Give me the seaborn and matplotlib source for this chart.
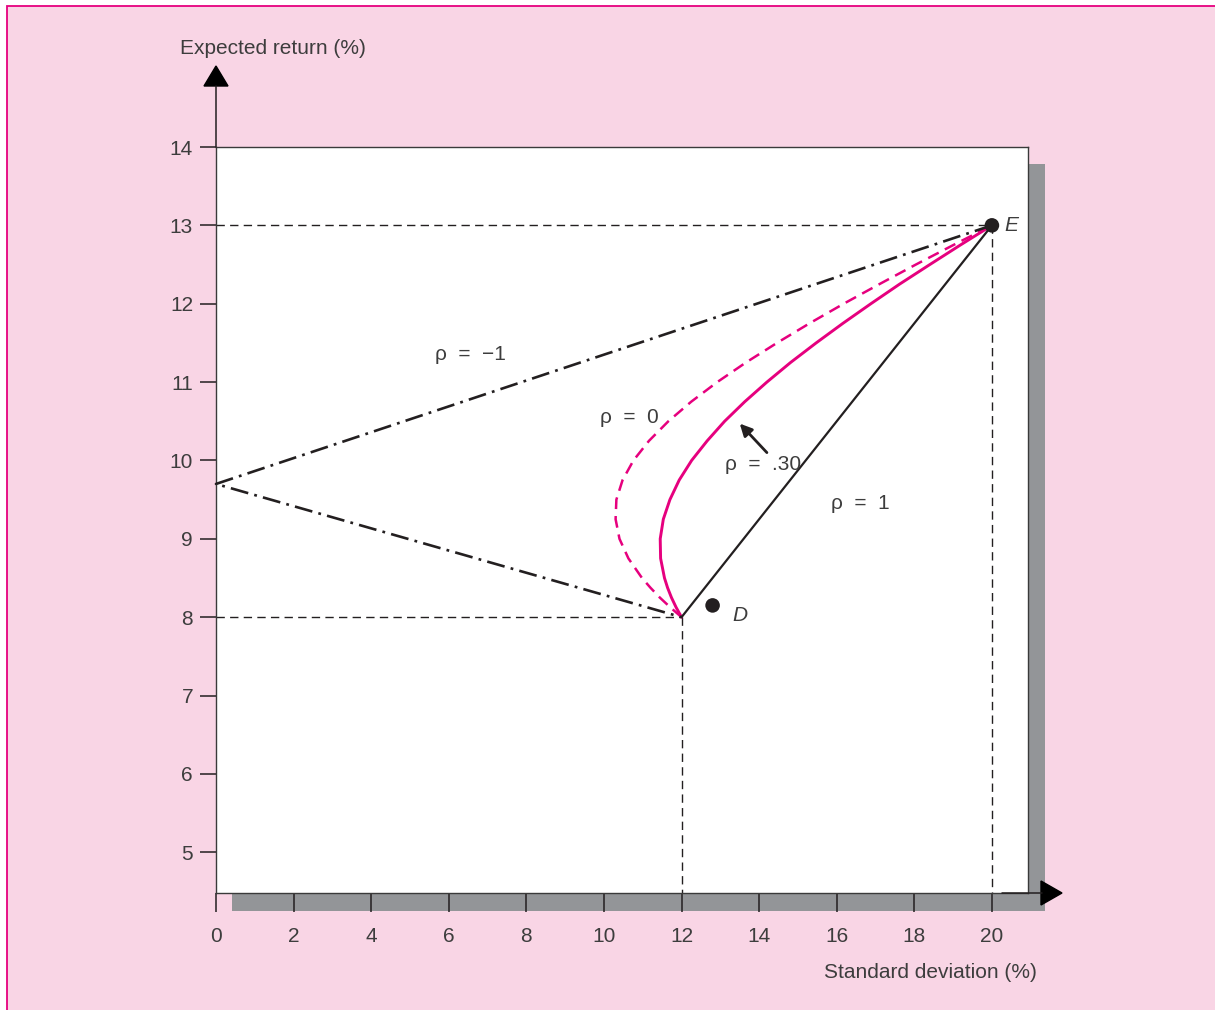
import matplotlib
matplotlib.use("Agg")
import matplotlib.pyplot as plt
from matplotlib.patches import Rectangle, Polygon
from matplotlib.lines import Line2D
import seaborn as sns

# stocks D and E
d_sd, d_ret = 12, 8
e_sd, e_ret = 20, 13
d_dot = (12.8, 8.15)

# rho = -1 : two straight segments through the zero-risk point
neg1_sd = [20, 0, 12]
neg1_ret = [13, 9.7, 8]

# rho = 0 (dashed magenta)
rho0_sd = [12.0, 11.71, 11.44, 11.20, 10.98, 10.63, 10.40, 10.30, 10.32, 10.48, 10.76, 11.16, 11.66,
           12.25, 12.92, 13.66, 14.46, 15.30, 16.18, 17.10, 18.04, 19.01, 20.0]
rho0_ret = [8.0, 8.125, 8.25, 8.375, 8.5, 8.75, 9.0, 9.25, 9.5, 9.75, 10.0, 10.25, 10.5,
            10.75, 11.0, 11.25, 11.5, 11.75, 12.0, 12.25, 12.5, 12.75, 13.0]

# rho = .30 (solid magenta)
rho30_sd = [12.0, 11.86, 11.74, 11.64, 11.56, 11.46, 11.45, 11.53, 11.70, 11.94, 12.26, 12.66, 13.11,
            13.63, 14.20, 14.81, 15.47, 16.16, 16.88, 17.62, 18.40, 19.19, 20.0]
rho30_ret = [8.0, 8.125, 8.25, 8.375, 8.5, 8.75, 9.0, 9.25, 9.5, 9.75, 10.0, 10.25, 10.5,
             10.75, 11.0, 11.25, 11.5, 11.75, 12.0, 12.25, 12.5, 12.75, 13.0]

# rho = 1 (solid black)
rho1_sd = [12, 20]
rho1_ret = [8, 13]

x_ticks = [0, 2, 4, 6, 8, 10, 12, 14, 16, 18, 20]
y_ticks = [5, 6, 7, 8, 9, 10, 11, 12, 13, 14]

PINK = '#F9D5E5'
MAGENTA = '#E6007E'
INK = '#231F20'
TXT = '#3d3d3d'
SHADOW = '#939598'

sns.set_theme(style="white")
plt.rcParams['font.family'] = ['Liberation Sans', 'DejaVu Sans']
plt.rcParams['lines.scale_dashes'] = False

W, H = 1215, 1010
fig = plt.figure(figsize=(W / 100, H / 100), dpi=100, facecolor='white')


def fx(px):
    return px / W


def fy(py):
    return 1 - py / H


# pink panel with magenta frame (only top/left visible)
fig.patches.append(Rectangle((fx(7), fy(1012)), fx(1215), fy(6) - fy(1012),
                             transform=fig.transFigure, facecolor=PINK,
                             edgecolor=MAGENTA, lw=1.3, zorder=-3))
# drop shadow
fig.patches.append(Rectangle((fx(1028), fy(911)), fx(1045) - fx(1028), fy(164) - fy(911),
                             transform=fig.transFigure, facecolor=SHADOW, lw=0, zorder=-2))
fig.patches.append(Rectangle((fx(232), fy(911)), fx(1045) - fx(232), fy(893) - fy(911),
                             transform=fig.transFigure, facecolor=SHADOW, lw=0, zorder=-2))

ax = fig.add_axes([fx(216), fy(893), fx(1028) - fx(216), fy(147) - fy(893)])
ax.set_facecolor('white')
ax.set_xlim(0, 20.93)
ax.set_ylim(4.48, 14)

# guide lines
guide = dict(color=INK, lw=1.0, ls=(0, (6, 3.8)), zorder=1)
ax.plot([0, e_sd], [e_ret, e_ret], **guide)
ax.plot([e_sd, e_sd], [e_ret, 4.48], **guide)
ax.plot([0, d_sd], [d_ret, d_ret], **guide)
ax.plot([d_sd, d_sd], [d_ret, 4.48], **guide)

sns.lineplot(x=rho0_sd, y=rho0_ret, sort=False, estimator=None, ax=ax,
             color=MAGENTA, linewidth=1.8, zorder=2)
ax.lines[-1].set_linestyle((0, (8.5, 5)))
sns.lineplot(x=rho30_sd, y=rho30_ret, sort=False, estimator=None, ax=ax,
             color=MAGENTA, linewidth=2.1, zorder=3)
sns.lineplot(x=rho1_sd, y=rho1_ret, sort=False, estimator=None, ax=ax,
             color=INK, linewidth=1.6, zorder=3)
sns.lineplot(x=neg1_sd, y=neg1_ret, sort=False, estimator=None, ax=ax,
             color=INK, linewidth=1.9, zorder=4)
ax.lines[-1].set_linestyle((0, (13, 4.5, 2, 4.5)))
ax.lines[-1].set_clip_on(False)

sns.scatterplot(x=[d_dot[0], e_sd], y=[d_dot[1], e_ret], ax=ax, color=INK,
                s=110, edgecolor='none', zorder=5)

tk = dict(fontsize=15, color=TXT)
ax.text(6.55, 11.35, 'ρ  =  −1', ha='center', va='center', **tk)
ax.text(10.65, 10.55, 'ρ  =  0', ha='center', va='center', **tk)
ax.text(14.1, 9.95, 'ρ  =  .30', ha='center', va='center', **tk)
ax.text(16.6, 9.45, 'ρ  =  1', ha='center', va='center', **tk)
ax.text(13.3, 8.02, 'D', ha='left', va='center', style='italic', **tk)
ax.text(20.32, 13.0, 'E', ha='left', va='center', style='italic', **tk)
ax.annotate('', xy=(13.5, 10.47), xytext=(14.2, 10.1),
            arrowprops=dict(arrowstyle='-|>', color=INK, lw=2,
                            mutation_scale=18, shrinkA=0, shrinkB=0))

ax.set_xticks(x_ticks)
ax.set_yticks(y_ticks)
ax.tick_params(axis='x', bottom=True, direction='out', length=13.7, width=1.1,
               color=INK, pad=11, labelsize=15, labelcolor=TXT)
ax.tick_params(axis='y', left=True, direction='out', length=11.5, width=1.1,
               color=INK, pad=5, labelsize=15, labelcolor=TXT)
ax.set_xlabel('')
ax.set_ylabel('')
for sp in ax.spines.values():
    sp.set_color('#3a3a3a')
    sp.set_linewidth(1.0)
    sp.set_visible(True)

# axis arrows
fig.lines.append(Line2D([fx(216), fx(216)], [fy(147), fy(86)], transform=fig.transFigure,
                        color=INK, lw=1.1))
fig.patches.append(Polygon([(fx(204), fy(86)), (fx(228), fy(86)), (fx(216), fy(66))],
                           closed=True, transform=fig.transFigure, color='black'))
fig.lines.append(Line2D([fx(1002), fx(1042)], [fy(893), fy(893)], transform=fig.transFigure,
                        color=INK, lw=1.1))
fig.patches.append(Polygon([(fx(1041), fy(881)), (fx(1041), fy(905)), (fx(1062), fy(893))],
                           closed=True, transform=fig.transFigure, color='black'))

fig.text(fx(180), fy(49), 'Expected return (%)', ha='left', va='center', fontsize=15, color=TXT)
fig.text(fx(1037), fy(973), 'Standard deviation (%)', ha='right', va='center', fontsize=15, color=TXT)

fig.savefig('out.png', dpi=100, facecolor=fig.get_facecolor())
